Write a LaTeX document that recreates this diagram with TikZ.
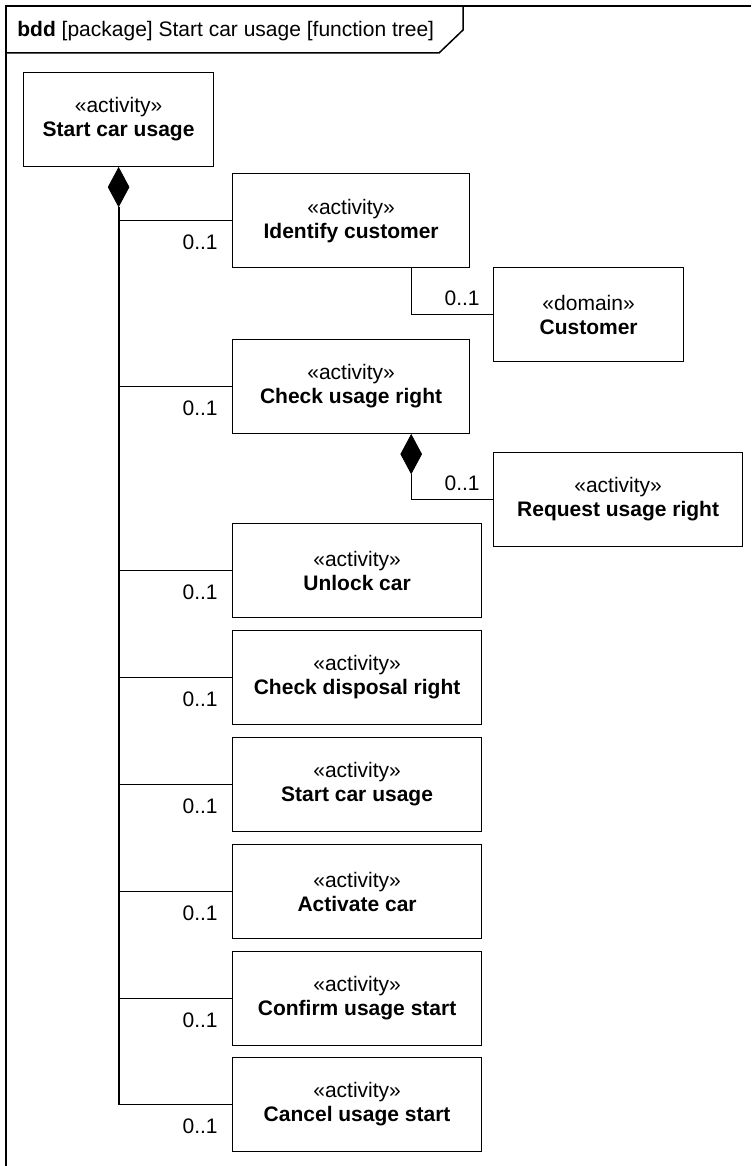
\documentclass[tikz,border=0pt]{standalone}
\usepackage{fontspec}
\setmainfont{Liberation Sans}
\usetikzlibrary{positioning,shapes.geometric}

\begin{document}
\begin{tikzpicture}[x=0.5pt, y=-0.5pt,
    every node/.style={font=\fontsize{10.5}{12}\selectfont},
    block/.style={draw, line width=0.6pt, align=center, anchor=north west, minimum height=47pt, inner sep=2pt},
    comp/.style={diamond, fill=black, draw=black, inner sep=0pt, minimum width=10.5pt, minimum height=19.5pt},
    link/.style={line width=0.5pt},
    trunk/.style={line width=1pt},
    mult/.style={inner sep=0pt}]
    \useasboundingbox (0,0) rectangle (751,1166);
    \draw[line width=0.75pt] (751,6) -- (6,6) -- (6,1166);
    \draw[line width=0.75pt] (6,53) -- (439,53) -- (463,30) -- (463,6);
    \node[anchor=base west, inner sep=0pt] (title) at (17,37) {\textbf{bdd} [package] Start car usage [function tree]};

    \node[block, minimum width=95pt] (top) at (23,72) {«activity»\\\textbf{Start car usage}};
    \node[block, minimum width=118.5pt] (idc) at (232,173) {«activity»\\\textbf{Identify customer}};
    \node[block, minimum width=95pt] (cus) at (493,267) {«domain»\\\textbf{Customer}};
    \node[block, minimum width=118.5pt] (cur) at (232,339) {«activity»\\\textbf{Check usage right}};
    \node[block, minimum width=124.5pt] (rur) at (493,452) {«activity»\\\textbf{Request usage right}};
    \node[block, minimum width=124.5pt] (unl) at (232,523) {«activity»\\\textbf{Unlock car}};
    \node[block, minimum width=124.5pt] (cdr) at (232,630) {«activity»\\\textbf{Check disposal right}};
    \node[block, minimum width=124.5pt] (scu) at (232,737) {«activity»\\\textbf{Start car usage}};
    \node[block, minimum width=124.5pt] (act) at (232,844) {«activity»\\\textbf{Activate car}};
    \node[block, minimum width=124.5pt] (cfs) at (232,951) {«activity»\\\textbf{Confirm usage start}};
    \node[block, minimum width=124.5pt] (cas) at (232,1057) {«activity»\\\textbf{Cancel usage start}};

    \node[comp, anchor=north] (dtop) at (top.south) {};
    \node[comp, anchor=north] (dcur) at ([xshift=-29.5pt]cur.south east) {};

    \draw[trunk] (dtop.south) -- (dtop.south |- cas.west);
    \draw[link] (dtop.south |- idc.west) -- (idc.west);
    \draw[link] (dtop.south |- cur.west) -- (cur.west);
    \draw[link] (dtop.south |- unl.west) -- (unl.west);
    \draw[link] (dtop.south |- cdr.west) -- (cdr.west);
    \draw[link] (dtop.south |- scu.west) -- (scu.west);
    \draw[link] (dtop.south |- act.west) -- (act.west);
    \draw[link] (dtop.south |- cfs.west) -- (cfs.west);
    \draw[link] (dtop.south |- cas.west) -- (cas.west);
    \draw[link] ([xshift=-29.5pt]idc.south east) |- (cus.west);
    \draw[link] (dcur.south) |- (rur.west);

    \node[mult, below left=7pt and 7pt of idc.west] (m1) {0..1};
    \node[mult, below left=7pt and 7pt of cur.west] (m2) {0..1};
    \node[mult, below left=7pt and 7pt of unl.west] (m3) {0..1};
    \node[mult, below left=7pt and 7pt of cdr.west] (m4) {0..1};
    \node[mult, below left=7pt and 7pt of scu.west] (m5) {0..1};
    \node[mult, below left=7pt and 7pt of act.west] (m6) {0..1};
    \node[mult, below left=7pt and 7pt of cfs.west] (m7) {0..1};
    \node[mult, below left=7pt and 7pt of cas.west] (m8) {0..1};
    \node[mult, above left=4pt and 6.5pt of cus.west] (m9) {0..1};
    \node[mult, above left=4pt and 6.5pt of rur.west] (m10) {0..1};
\end{tikzpicture}
\end{document}
